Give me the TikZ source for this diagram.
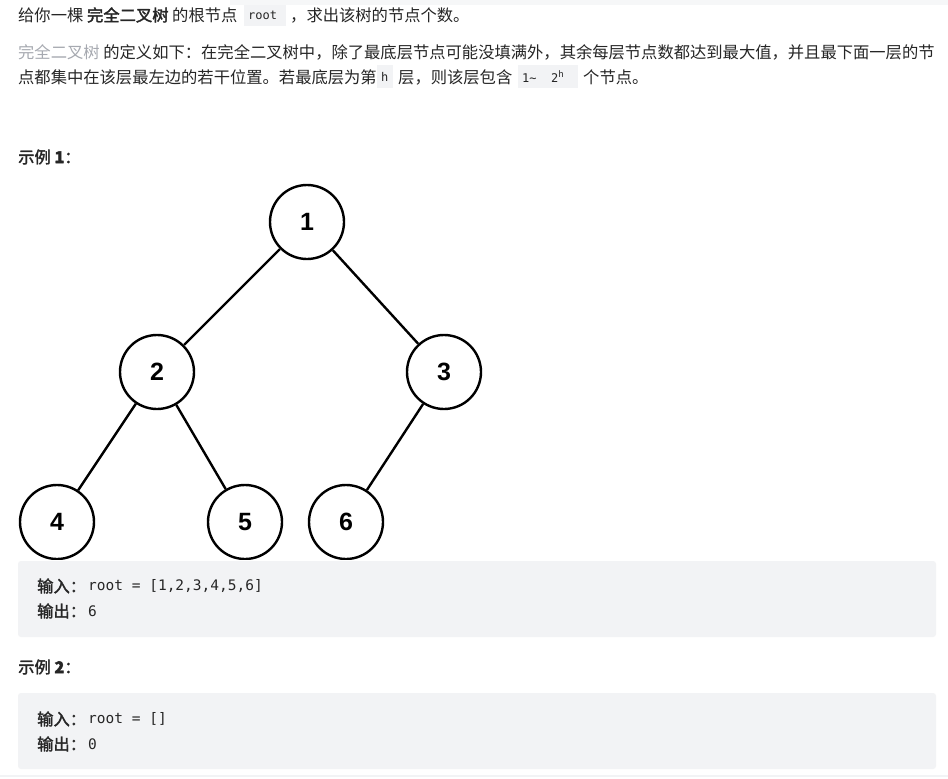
\documentclass[tikz,border=0pt]{standalone}
\usepackage{fontspec}
\setmainfont{Liberation Sans}
\newfontfamily\cjk{Noto Sans CJK SC}
\newfontfamily\cjkb{Noto Sans CJK SC}[FakeBold=2]
\setmonofont{DejaVu Sans Mono}
\definecolor{codebg}{HTML}{F2F3F5}
\definecolor{txt}{HTML}{262626}
\definecolor{lnk}{HTML}{A6A9B0}
\tikzset{
  tn/.style={circle,draw=black,line width=2.4pt,fill=white,minimum size=74pt,inner sep=0pt,font=\fontsize{25}{25}\selectfont\bfseries},
  ed/.style={line width=2.4pt},
  tx/.style={anchor=west,inner sep=0pt,text=txt,font=\cjk\fontsize{16.3}{19}\selectfont},
  txb/.style={tx,font=\cjkb\fontsize{16.3}{19}\selectfont},
  cd/.style={anchor=west,inner sep=0pt,text=txt,font=\ttfamily\fontsize{14.5}{17}\selectfont},
  cds/.style={cd,font=\ttfamily\fontsize{12}{14}\selectfont},
  box/.style={fill=codebg,rounded corners=3pt},
}
\begin{document}
\begin{tikzpicture}[x=1pt,y=-1pt]
\useasboundingbox (0,0) rectangle (948,779);
\fill[white] (0,0) rectangle (948,779);
\fill[codebg!70] (230,0) rectangle (948,5);
% text
\fill[codebg] (244,5) rectangle (286,26);
\node[tx] (l1) at (18,15) {给你一棵 {\cjkb 完全二叉树} 的根节点};
\node[cds] (r1) at (248,15) {root};
\node[tx] (l1b) at (290,15) {，求出该树的节点个数。};
\fill[codebg] (377,65) rectangle (393,88);
\fill[codebg] (518,65) rectangle (578,88);
\node[tx] (l2) at (18,52) {{\color{lnk}完全二叉树} 的定义如下：在完全二叉树中，除了最底层节点可能没填满外，其余每层节点数都达到最大值，并且最下面一层的节};
\node[tx] (l3) at (18,77) {点都集中在该层最左边的若干位置。若最底层为第};
\node[cds] (h) at (381,77) {h};
\node[tx] (l3b) at (398,77) {层，则该层包含};
\node[cds] (rng) at (522,77) {1\textasciitilde\ \ 2\raisebox{5pt}{\fontsize{9}{9}\selectfont h}};
\node[tx] (l3c) at (583,77) {个节点。};
\node[txb] (ex1) at (18,157) {示例 {\bfseries 1}：};
% tree
\node[tn] (n1) at (307,222) {1};
\node[tn] (n2) at (157,372) {2};
\node[tn] (n3) at (444,372) {3};
\node[tn] (n4) at (57,522) {4};
\node[tn] (n5) at (245,522) {5};
\node[tn] (n6) at (346,522) {6};
\draw[ed] (n1) -- (n2); \draw[ed] (n1) -- (n3);
\draw[ed] (n2) -- (n4); \draw[ed] (n2) -- (n5);
\draw[ed] (n3) -- (n6);
% boxes
\fill[white] (0,560) rectangle (948,561);
\fill[box] (18,561) rectangle (936,637);
\node[txb] (i1) at (37,586) {输入：};
\node[cd] (i1v) at (88,586) {root = [1,2,3,4,5,6]};
\node[txb] (o1) at (37,611) {输出：};
\node[cd] (o1v) at (88,611) {6};
\node[txb] (ex2) at (18,667) {示例 {\bfseries 2}：};
\fill[box] (18,693) rectangle (936,769);
\node[txb] (i2) at (37,719) {输入：};
\node[cd] (i2v) at (88,719) {root = []};
\node[txb] (o2) at (37,744) {输出：};
\node[cd] (o2v) at (88,744) {0};
\fill[codebg] (0,775) rectangle (948,777);
\end{tikzpicture}
\end{document}
